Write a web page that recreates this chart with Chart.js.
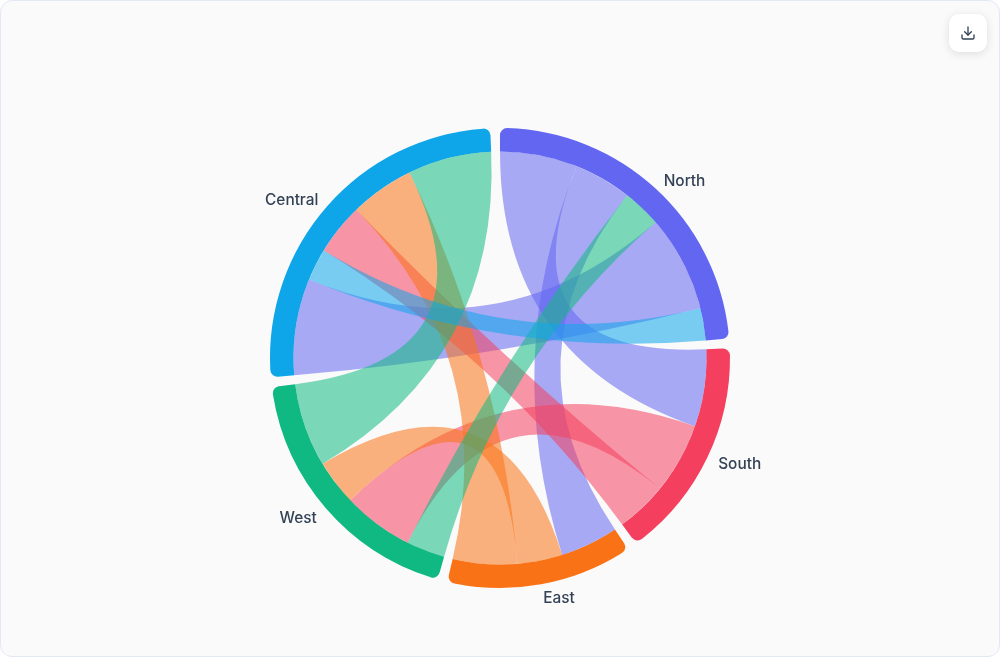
<!DOCTYPE html>
<html>
<head>
<meta charset="utf-8">
<title>Chord chart</title>
<script src="https://cdn.jsdelivr.net/npm/chart.js@4"></script>
<style>
  html, body { margin: 0; padding: 0; width: 1000px; height: 657px; overflow: hidden; background: #fff; }
  .card { position: absolute; left: 0; top: 0; width: 1000px; height: 657px; box-sizing: border-box;
          background: #fafafa; border: 1px solid #e2e8f4; border-radius: 12px; overflow: hidden; }
  canvas { position: absolute; left: -1px; top: -1px; }
  .btn { position: absolute; left: 948px; top: 13px; width: 38px; height: 38px; box-sizing: border-box;
         background: #fff; border: 0; border-radius: 10px; padding: 0;
         box-shadow: 0 2px 8px rgba(15, 23, 42, .12); display: flex; align-items: center; justify-content: center; }
</style>
</head>
<body>
<div class="card">
  <canvas id="c" width="1000" height="657"></canvas>
  <button class="btn" aria-label="Download">
    <svg width="16" height="16" viewBox="0 0 24 24" fill="none" stroke="#334155" stroke-width="2" stroke-linecap="round" stroke-linejoin="round">
      <path d="M21 15v4a2 2 0 0 1-2 2H5a2 2 0 0 1-2-2v-4"/><polyline points="7 10 12 15 17 10"/><line x1="12" y1="15" x2="12" y2="3"/>
    </svg>
  </button>
</div>
<script>
const regions = ['North', 'South', 'East', 'West', 'Central'];
const regionColors = ['#6366f1', '#f43f5e', '#f97316', '#10b981', '#0ea5e9'];
const linkSources = [0, 0, 0, 1, 1, 2, 2, 3, 3, 4];
const linkTargets = [1, 2, 4, 3, 4, 3, 4, 0, 4, 0];
const linkValues = [120, 90, 150, 110, 80, 70, 100, 60, 130, 50];
const regionTotals = regions.map((_, g) => linkValues.reduce(
  (sum, v, i) => sum + (linkSources[i] === g || linkTargets[i] === g ? v : 0), 0));

const PAD = 2.45 * Math.PI / 180;
const RIBBON_ALPHA = 0.55;
const LABEL_RADIUS = 242;

const Base = Chart.registry.getController('doughnut');
class ChordRing extends Base {
  calculateCircumference(value) {
    const total = this._cachedMeta.total;
    const n = this._cachedMeta.data.length;
    return total > 0 ? (2 * Math.PI - n * PAD) * Math.abs(value) / total + PAD : 0;
  }
  updateElement(el, i, props, mode) {
    if (props && props.endAngle !== undefined) {
      props.endAngle -= PAD;
      props.circumference -= PAD;
    }
    super.updateElement(el, i, props, mode);
  }
}
ChordRing.id = 'chordRing';
ChordRing.defaults = Base.defaults;
ChordRing.overrides = Base.overrides;
Chart.register(ChordRing);

function ringSpans(chart) {
  const arcs = chart.getDatasetMeta(0).data;
  const spans = {};
  arcs.forEach((arc, g) => {
    const k = (arc.endAngle - arc.startAngle) / regionTotals[g];
    let a = arc.startAngle;
    const ends = [];
    linkValues.forEach((v, i) => {
      if (linkSources[i] === g) ends.push({ i, side: 's', partner: linkTargets[i], v });
      if (linkTargets[i] === g) ends.push({ i, side: 't', partner: linkSources[i], v });
    });
    ends.sort((p, q) => p.partner - q.partner || p.i - q.i);
    ends.forEach(e => {
      spans[e.side + e.i] = [a, a + e.v * k];
      a += e.v * k;
    });
  });
  return spans;
}

const chordPlugin = {
  id: 'chords',
  afterDatasetsDraw(chart) {
    const ctx = chart.ctx;
    const arcs = chart.getDatasetMeta(0).data;
    const cx = arcs[0].x, cy = arcs[0].y, r = arcs[0].innerRadius;
    const spans = ringSpans(chart);
    ctx.save();
    ctx.globalAlpha = RIBBON_ALPHA;
    linkValues.forEach((_, i) => {
      const [s0, s1] = spans['s' + i];
      const [t0, t1] = spans['t' + i];
      ctx.beginPath();
      ctx.arc(cx, cy, r, s0, s1);
      ctx.quadraticCurveTo(cx, cy, cx + r * Math.cos(t0), cy + r * Math.sin(t0));
      ctx.arc(cx, cy, r, t0, t1);
      ctx.quadraticCurveTo(cx, cy, cx + r * Math.cos(s0), cy + r * Math.sin(s0));
      ctx.closePath();
      ctx.fillStyle = regionColors[linkSources[i]];
      ctx.fill();
    });
    ctx.restore();

    ctx.save();
    ctx.font = '500 15.4px Inter, sans-serif';
    ctx.fillStyle = '#334155';
    ctx.textBaseline = 'middle';
    arcs.forEach((arc, g) => {
      const mid = (arc.startAngle + arc.endAngle) / 2;
      const x = cx + LABEL_RADIUS * Math.cos(mid);
      const y = cy + LABEL_RADIUS * Math.sin(mid) + 2;
      ctx.textAlign = Math.cos(mid) >= 0 ? 'left' : 'right';
      ctx.fillText(regions[g], x, y);
    });
    ctx.restore();
  }
};

new Chart(document.getElementById('c'), {
  type: 'chordRing',
  data: {
    labels: regions,
    datasets: [{
      data: regionTotals,
      backgroundColor: regionColors,
      borderWidth: 0,
      borderRadius: { outerStart: 7, outerEnd: 7, innerStart: 0, innerEnd: 0 }
    }]
  },
  options: {
    responsive: false,
    maintainAspectRatio: false,
    animation: false,
    rotation: 0,
    radius: 230,
    cutout: '89.78%',
    layout: { padding: { top: 59 } },
    events: [],
    plugins: { legend: { display: false }, tooltip: { enabled: false }, title: { display: false } }
  },
  plugins: [chordPlugin]
});
</script>
</body>
</html>
